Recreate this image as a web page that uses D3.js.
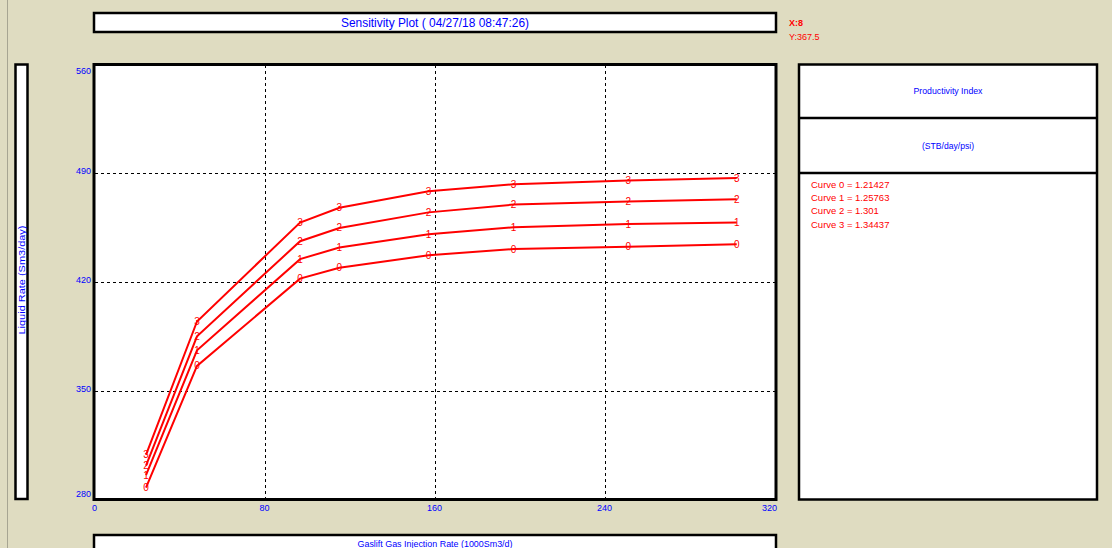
<!DOCTYPE html>
<html>
<head>
<meta charset="utf-8">
<script src="https://d3js.org/d3.v7.min.js"></script>
<style>
  body { margin: 0; background: #dfdcc1; overflow: hidden; }
  text { font-family: "Liberation Sans", Arial, sans-serif; }
</style>
</head>
<body>
<div id="sensitivity-plot"></div>
<script>
// values
var gasRates = [24, 48, 96.5, 115, 157, 197, 251, 302];
var curve0 = [288, 366, 422, 429, 437, 441, 442.5, 444];
var curve1 = [296, 376, 434.5, 442, 450.5, 455, 457, 458];
var curve2 = [302, 385, 446, 454.5, 464.5, 469.5, 471.5, 473];
var curve3 = [309, 394.5, 458, 467.5, 478, 482.5, 485, 486.5];
var piValues = [1.21427, 1.25763, 1.301, 1.34437];
var xTicks = [0, 80, 160, 240, 320];
var yTicks = [280, 350, 420, 490, 560];
var titleText = "Sensitivity Plot ( 04/27/18 08:47:26)";
var xLabel = "Gaslift Gas Injection Rate  (1000Sm3/d)";
var yLabel = "Liquid Rate  (Sm3/day)";
var legendTitle = "Productivity Index";
var legendUnits = "(STB/day/psi)";
var cursorX = "X:8";
var cursorY = "Y:367.5";

var curves = [curve0, curve1, curve2, curve3];

var w = 1112;
var h = 548;
var blue = "#0000ff";
var red = "#ff0000";

var svg = d3.select("#sensitivity-plot")
            .append("svg")
            .attr("width", w)
            .attr("height", h);

var xScale = d3.scaleLinear()
               .domain([0, 320])
               .range([95, 775]);

var yScale = d3.scaleLinear()
               .domain([280, 560])
               .range([500, 63.5]);

// thin panel edge at the far left
svg.append("line")
   .attr("x1", 7.5).attr("x2", 7.5)
   .attr("y1", 0).attr("y2", h)
   .attr("stroke", "#a7a592");

function box(x, y, bw, bh, sw) {
  svg.append("rect")
     .attr("x", x).attr("y", y)
     .attr("width", bw).attr("height", bh)
     .attr("fill", "#fff")
     .attr("stroke", "#000")
     .attr("stroke-width", sw);
}

// title box
box(94, 13, 682, 19, 2.5);
svg.append("text")
   .attr("x", 435).attr("y", 27)
   .attr("text-anchor", "middle")
   .attr("font-size", 13)
   .attr("textLength", 188)
   .attr("lengthAdjust", "spacingAndGlyphs")
   .attr("fill", blue)
   .text(titleText);

// cursor readout
svg.append("text")
   .attr("x", 789).attr("y", 26)
   .attr("font-size", 9).attr("font-weight", "bold")
   .attr("fill", red)
   .text(cursorX);
svg.append("text")
   .attr("x", 789).attr("y", 40)
   .attr("font-size", 9)
   .attr("fill", red)
   .text(cursorY);

// y label box
box(15.5, 64.5, 12, 434.5, 2.5);
svg.append("text")
   .attr("transform", "translate(25,280) rotate(-90)")
   .attr("text-anchor", "middle")
   .attr("font-size", 9.5)
   .attr("textLength", 109)
   .attr("lengthAdjust", "spacingAndGlyphs")
   .attr("fill", blue)
   .text(yLabel);

// x label box
box(94, 535, 682, 30, 2.5);
svg.append("text")
   .attr("x", 435).attr("y", 547)
   .attr("text-anchor", "middle")
   .attr("font-size", 9.5)
   .attr("textLength", 155)
   .attr("lengthAdjust", "spacingAndGlyphs")
   .attr("fill", blue)
   .text(xLabel);

// plot area
box(94, 64.5, 682, 435, 0);

// grid
var gridX = d3.axisBottom(xScale)
              .tickValues(xTicks.slice(1, -1))
              .tickSize(-(500 - 63.5))
              .tickFormat("");
svg.append("g")
   .attr("class", "grid")
   .attr("transform", "translate(0,500)")
   .call(gridX);

var gridY = d3.axisLeft(yScale)
              .tickValues(yTicks.slice(1, -1))
              .tickSize(-(775 - 95))
              .tickFormat("");
svg.append("g")
   .attr("class", "grid")
   .attr("transform", "translate(95,0)")
   .call(gridY);

svg.selectAll(".grid .domain").remove();
svg.selectAll(".grid line")
   .attr("stroke", "#000")
   .attr("stroke-dasharray", "3,3")
   .attr("shape-rendering", "crispEdges");

// curves
var line = d3.line()
             .x(function(d) { return xScale(d[0]); })
             .y(function(d) { return yScale(d[1]); });

curves.forEach(function(c, k) {
  var pts = gasRates.map(function(g, i) { return [g, c[i]]; });
  svg.append("path")
     .datum(pts)
     .attr("d", line)
     .attr("fill", "none")
     .attr("stroke", red)
     .attr("stroke-width", 2);

  svg.selectAll(".mark" + k)
     .data(pts)
     .enter()
     .append("text")
     .attr("class", "mark" + k)
     .attr("x", function(d) { return xScale(d[0]); })
     .attr("y", function(d) { return yScale(d[1]); })
     .attr("dy", "0.35em")
     .attr("text-anchor", "middle")
     .attr("font-size", 10)
     .attr("fill", red)
     .text(k);
});

// frame on top
svg.append("rect")
   .attr("x", 94).attr("y", 64.5)
   .attr("width", 682).attr("height", 435)
   .attr("fill", "none")
   .attr("stroke", "#000")
   .attr("stroke-width", 3);

// axes labels
var yAxis = d3.axisLeft(yScale)
              .tickValues(yTicks)
              .tickSize(0)
              .tickPadding(4);
var yG = svg.append("g")
            .attr("transform", "translate(95,0)")
            .call(yAxis);
yG.select(".domain").remove();
yG.selectAll("text")
  .attr("font-size", 9)
  .attr("font-family", "Liberation Sans, Arial, sans-serif")
  .attr("fill", blue)
  .attr("y", function(d) {
    var p = Math.min(Math.max(yScale(d) - 2, 71), 494);
    return p - yScale(d);
  });

var xAxis = d3.axisBottom(xScale)
              .tickValues(xTicks)
              .tickSize(0)
              .tickPadding(5);
var xG = svg.append("g")
            .attr("transform", "translate(0,500)")
            .call(xAxis);
xG.select(".domain").remove();
xG.selectAll("text")
  .attr("font-size", 9)
  .attr("font-family", "Liberation Sans, Arial, sans-serif")
  .attr("fill", blue)
  .attr("x", function(d) {
    var p = Math.min(xScale(d) - 1, 769);
    return p - xScale(d);
  });

// productivity index panel
box(799, 64.5, 298, 435, 2.5);
svg.append("line")
   .attr("x1", 799).attr("x2", 1097)
   .attr("y1", 118).attr("y2", 118)
   .attr("stroke", "#000").attr("stroke-width", 2.5);
svg.append("line")
   .attr("x1", 799).attr("x2", 1097)
   .attr("y1", 173).attr("y2", 173)
   .attr("stroke", "#000").attr("stroke-width", 2.5);

svg.append("text")
   .attr("x", 948).attr("y", 94)
   .attr("text-anchor", "middle")
   .attr("font-size", 9.5)
   .attr("textLength", 69)
   .attr("lengthAdjust", "spacingAndGlyphs")
   .attr("fill", blue)
   .text(legendTitle);
svg.append("text")
   .attr("x", 948).attr("y", 149)
   .attr("text-anchor", "middle")
   .attr("font-size", 9.5)
   .attr("textLength", 52)
   .attr("lengthAdjust", "spacingAndGlyphs")
   .attr("fill", blue)
   .text(legendUnits);

svg.selectAll(".pi")
   .data(piValues)
   .enter()
   .append("text")
   .attr("class", "pi")
   .attr("x", 811)
   .attr("y", function(d, i) { return 188 + i * 13.2; })
   .attr("font-size", 9.5)
   .attr("fill", red)
   .text(function(d, i) { return "Curve " + i + " = " + d; });
</script>
</body>
</html>
